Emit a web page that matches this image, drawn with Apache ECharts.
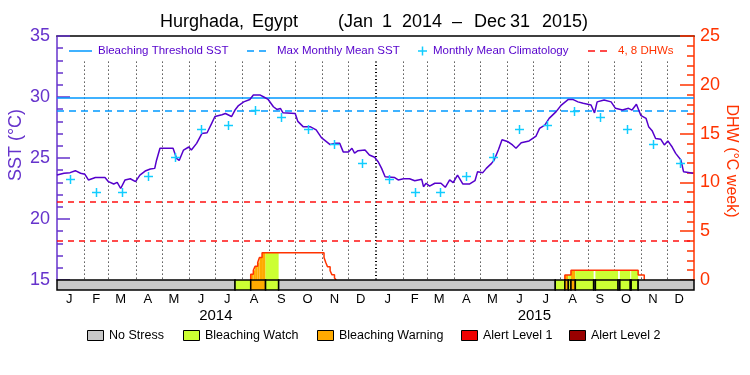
<!DOCTYPE html>
<html><head><meta charset="utf-8">
<script src="https://cdn.jsdelivr.net/npm/echarts@6/dist/echarts.min.js"></script>
<style>html,body{margin:0;padding:0;background:#fff}#c{width:750px;height:375px}</style>
</head><body><div id="c"></div>
<script>
// ---------------- DATA ----------------
const sstDates = ['2014-01-01','2014-01-09','2014-01-16','2014-01-22','2014-01-28','2014-02-02','2014-02-06','2014-02-14','2014-02-25','2014-03-01','2014-03-07','2014-03-11','2014-03-15','2014-03-20','2014-03-26','2014-04-01','2014-04-06','2014-04-12','2014-04-18','2014-04-23','2014-04-25','2014-04-29','2014-05-14','2014-05-18','2014-05-21','2014-05-26','2014-06-01','2014-06-04','2014-06-10','2014-06-16','2014-06-22','2014-06-27','2014-07-01','2014-07-09','2014-07-13','2014-07-20','2014-07-24','2014-07-28','2014-08-03','2014-08-10','2014-08-14','2014-08-22','2014-08-26','2014-08-31','2014-09-06','2014-09-10','2014-09-14','2014-09-17','2014-10-01','2014-10-04','2014-10-10','2014-10-18','2014-10-25','2014-10-31','2014-11-10','2014-11-15','2014-11-21','2014-11-25','2014-12-01','2014-12-05','2014-12-08','2014-12-12','2014-12-20','2014-12-25','2014-12-31',
'2015-01-04','2015-01-08','2015-01-12','2015-01-23','2015-01-27','2015-02-02','2015-02-09','2015-02-15','2015-02-23','2015-02-25','2015-02-28','2015-03-04','2015-03-10','2015-03-17','2015-03-22','2015-03-27','2015-03-31','2015-04-05','2015-04-11','2015-04-19','2015-04-25','2015-04-28','2015-05-04','2015-05-08','2015-05-14','2015-05-17','2015-05-22','2015-05-26','2015-06-02','2015-06-07','2015-06-11','2015-06-17','2015-06-26','2015-07-04','2015-07-08','2015-07-14','2015-07-19','2015-07-27','2015-08-02','2015-08-10','2015-08-15','2015-08-21','2015-08-27','2015-09-05','2015-09-09','2015-09-12','2015-09-20','2015-09-28','2015-10-03','2015-10-11','2015-10-18','2015-10-22','2015-10-27','2015-11-01','2015-11-07','2015-11-10','2015-11-14','2015-11-18','2015-11-24','2015-11-28','2015-12-02','2015-12-07','2015-12-11','2015-12-17','2015-12-20','2015-12-31'];
const sstValues = [23.6,23.75,23.8,23.96,23.75,23.66,23.2,23.4,23.4,23.06,22.87,23.0,22.5,23.2,23.3,23.06,23.6,23.93,24.1,24.15,24.8,25.8,25.8,24.97,24.8,25.65,25.9,25.65,26.2,27.0,27.07,27.8,28.4,28.55,28.65,28.4,28.93,29.3,29.6,29.8,30.16,30.16,30.0,29.8,29.2,28.98,29.06,28.7,28.65,28.0,27.57,27.57,27.3,26.67,26.1,26.2,26.2,25.5,25.5,25.8,25.4,25.6,25.65,25.25,25.06,
24.7,24.15,23.47,23.4,23.2,23.3,23.3,23.14,23.25,22.65,22.93,22.7,22.93,22.93,22.6,23.2,22.98,23.6,22.87,22.87,23.14,23.88,23.8,24.15,24.56,24.84,25.7,26.5,26.33,26.07,25.8,26.25,26.4,26.8,27.43,27.7,28.25,28.8,29.34,29.8,29.8,29.6,29.48,29.34,28.7,29.6,29.75,29.6,29.07,28.93,29.07,28.93,29.4,28.5,28.25,27.57,27.24,26.6,26.53,26.07,26.4,25.9,25.38,24.84,23.88,23.75];

const climDates = ['2014-01-16','2014-02-15','2014-03-16','2014-04-15','2014-05-16','2014-06-15','2014-07-16','2014-08-16','2014-09-15','2014-10-16','2014-11-15','2014-12-16',
'2015-01-16','2015-02-15','2015-03-16','2015-04-15','2015-05-16','2015-06-15','2015-07-16','2015-08-16','2015-09-15','2015-10-16','2015-11-15','2015-12-16'];
const climValues = [23.3,22.25,22.25,23.55,25.1,27.35,27.7,28.9,28.33,27.35,26.15,24.56,
23.3,22.25,22.25,23.5,25.1,27.35,27.7,28.88,28.33,27.35,26.15,24.56];

const bleachingThreshold = 29.9;
const maxMonthlyMean = 28.9;
const dhwLevels = [4, 8];

const dhwDates = ['2014-08-11','2014-08-14','2014-08-16','2014-08-19','2014-08-21','2014-08-24','2014-11-03','2014-11-05','2014-11-07','2014-11-10','2014-11-12','2014-11-15','2014-11-17',
'2015-08-06','2015-08-13','2015-10-29','2015-11-05'];
const dhwValues = [0.6,1.0,1.4,1.8,2.3,2.8,2.3,1.8,1.35,0.95,0.55,0.2,0,
0.5,1.0,0.5,0];

const stressStart = ['2014-01-01','2014-07-24','2014-08-11','2014-08-28','2014-09-12','2015-07-26','2015-08-06','2015-08-10','2015-08-13','2015-08-18','2015-09-08','2015-09-10','2015-10-06','2015-10-08','2015-10-20','2015-10-21','2015-10-29'];
const stressLevel = [0,1,2,1,0,1,2,1,2,1,0,1,0,1,0,1,0];

const monthLetters = ['J','F','M','A','M','J','J','A','S','O','N','D'];
const yearLabels = ['2014','2015'];
const yearLabelDates = ['2014-07-02','2015-07-02'];
const sstTicks = [15,20,25,30,35];
const stressNames = ['No Stress','Bleaching Watch','Bleaching Warning','Alert Level 1','Alert Level 2'];

// ---------------- STYLE ----------------
const FONT = 'Liberation Sans';
const PURPLE = '#5500cc', AXP = '#6633cc', ORANGE = '#ff3300', BLUE = '#0099ff', CYAN = '#11ccff', RED = '#ff1111';
const stressColors = ['#c8c8c8','#ccff33','#ffaa00','#ee0000','#990000'];
const ts = s => Date.parse(s + 'T00:00:00Z');
const T0 = ts('2014-01-01'), T1 = ts('2016-01-01');

const sstData = sstDates.map((d,i)=>[ts(d), sstValues[i]]);
const climData = climDates.map((d,i)=>[ts(d), climValues[i]]);

// DHW outline
const dhwLine = [];
dhwDates.forEach((d,i)=>{
  if (i===0 || dhwValues[i-1]===0) { if (i>0) dhwLine.push(null); dhwLine.push([ts(d),0]); }
  dhwLine.push([ts(d), dhwValues[i]]);
});
// stress segments
const stressSeg = stressStart.map((d,i)=>[ts(d), i+1<stressStart.length ? ts(stressStart[i+1]) : T1, stressLevel[i]]);
// DHW fill pieces = DHW steps intersected with stress segments (level>0)
const dhwFill = [];
for (let i=0;i<dhwDates.length-1;i++){
  if (dhwValues[i]<=0) continue;
  const a = ts(dhwDates[i]), b = ts(dhwDates[i+1]);
  stressSeg.forEach(s=>{
    if (s[2]===0) return;
    const lo = Math.max(a,s[0]), hi = Math.min(b,s[1]);
    if (hi>lo) dhwFill.push([lo,hi,dhwValues[i],s[2]]);
  });
}
// month boundaries and month label positions
const monthBounds = [], monthLabelData = [];
for (let y=2014;y<=2015;y++) for (let m=0;m<12;m++){
  const t = Date.UTC(y,m,1);
  if (!(y===2014 && m===0)) monthBounds.push([t, (m===0)?1:0]);
  monthLabelData.push([Date.UTC(y,m,15), m]);
}
const yearData = yearLabelDates.map((d,i)=>[ts(d), i]);

// ---------------- CHART ----------------
const chart = echarts.init(document.getElementById('c'));
const txt = (text,x,y,size,color,align,extra) => Object.assign({type:'text', x:x, y:y, silent:true,
  style:{text:text, fill:color, font:size+'px '+FONT, textAlign:align||'left', textVerticalAlign:'middle'}}, extra||{});

const legTop = 51;
const graphic = [
  txt('Hurghada,',160,22,18,'#000'), txt('Egypt',252,22,18,'#000'),
  txt('(Jan',338,22,18,'#000'), txt('1',382,22,18,'#000'), txt('2014',402,22,18,'#000'),
  txt('–',452,22,18,'#000'), txt('Dec',474,22,18,'#000'), txt('31',510,22,18,'#000'), txt('2015)',542,22,18,'#000'),
  txt('SST (°C)',16,145,18,AXP,'center',{rotation:Math.PI/2}),
  txt('DHW (°C week)',731,161,16,ORANGE,'center',{rotation:-Math.PI/2}),
  {type:'line', silent:true, shape:{x1:69,y1:legTop,x2:92,y2:legTop}, style:{stroke:BLUE,lineWidth:1.5}},
  txt('Bleaching Threshold SST',98,legTop,11.5,PURPLE),
  {type:'line', silent:true, shape:{x1:247,y1:legTop,x2:269,y2:legTop}, style:{stroke:BLUE,lineWidth:1.5,lineDash:[7,5]}},
  txt('Max Monthly Mean SST',277,legTop,11.5,PURPLE),
  {type:'line', silent:true, shape:{x1:418,y1:legTop,x2:427,y2:legTop}, style:{stroke:CYAN,lineWidth:1.5}},
  {type:'line', silent:true, shape:{x1:422.5,y1:legTop-4.5,x2:422.5,y2:legTop+4.5}, style:{stroke:CYAN,lineWidth:1.5}},
  txt('Monthly Mean Climatology',433,legTop,11.5,PURPLE),
  {type:'line', silent:true, shape:{x1:588,y1:legTop,x2:612,y2:legTop}, style:{stroke:RED,lineWidth:1.5,lineDash:[7,5]}},
  txt('4, 8 DHWs',618,legTop,11.5,ORANGE)
];
const boxX = [87,183,317,461,569];
stressNames.forEach((n,i)=>{
  graphic.push({type:'rect', silent:true, shape:{x:boxX[i]+0.5,y:330.5,width:16,height:10}, style:{fill:stressColors[i],stroke:'#000',lineWidth:1}});
  graphic.push(txt(n,boxX[i]+22,336,12.5,'#000'));
});

const option = {
  animation:false,
  backgroundColor:'#fff',
  graphic: graphic,
  grid:[{left:57,right:56,top:36,height:244},{left:57,right:56,top:280,height:10}],
  xAxis:[
    {type:'time', gridIndex:0, min:T0, max:T1, position:'top',
     axisLine:{show:true, onZero:false, lineStyle:{color:'#000',width:1.5}}, axisTick:{show:false}, axisLabel:{show:false}, splitLine:{show:false}},
    {type:'time', gridIndex:1, min:T0, max:T1, show:false}
  ],
  yAxis:[
    {type:'value', gridIndex:0, min:15, max:35, interval:5, position:'left',
     axisLine:{show:true, lineStyle:{color:AXP,width:1.5}},
     axisTick:{show:true, inside:true, length:13, lineStyle:{color:AXP,width:1.5}},
     minorTick:{show:true, splitNumber:5, length:6, lineStyle:{color:AXP,width:1.5}},
     axisLabel:{color:AXP, fontSize:18, fontFamily:FONT, margin:7, formatter:v=>sstTicks.includes(v)?String(v):''},
     splitLine:{show:false}},
    {type:'value', gridIndex:0, min:0, max:25, interval:5, position:'right',
     axisLine:{show:true, lineStyle:{color:ORANGE,width:1.5}},
     axisTick:{show:true, inside:true, length:14, lineStyle:{color:ORANGE,width:1.5}},
     minorTick:{show:true, splitNumber:5, length:7, lineStyle:{color:ORANGE,width:1.5}},
     axisLabel:{color:ORANGE, fontSize:18, fontFamily:FONT, margin:6},
     splitLine:{show:false}},
    {type:'value', gridIndex:1, min:0, max:1, show:false}
  ],
  series:[
    { // month grid lines
      type:'custom', xAxisIndex:0, yAxisIndex:0, silent:true, z:1, data:monthBounds,
      renderItem:(p,api)=>{
        const a = api.coord([api.value(0),32.9]), b = api.coord([api.value(0),15]);
        const yr = api.value(1)===1;
        const x = yr ? Math.round(a[0]) : Math.round(a[0])+0.5;
        return {type:'line', shape:{x1:x,y1:a[1],x2:x,y2:b[1]},
          style:{stroke:'#000', lineWidth:yr?2:1, lineDash:yr?[1,2.5]:[1,3]}};
      }
    },
    { // DHW fill by stress level
      type:'custom', xAxisIndex:0, yAxisIndex:1, silent:true, z:2, data:dhwFill,
      renderItem:(p,api)=>{
        const a = api.coord([api.value(0),api.value(2)]), b = api.coord([api.value(1),0]);
        return {type:'rect', shape:{x:a[0],y:a[1],width:b[0]-a[0],height:b[1]-a[1]},
          style:{fill:stressColors[api.value(3)]}};
      }
    },
    { type:'line', name:'DHW', xAxisIndex:0, yAxisIndex:1, data:dhwLine, step:'end', showSymbol:false, symbol:'none',
      connectNulls:false, silent:true, z:4, lineStyle:{color:ORANGE,width:1.5},
      markLine:{silent:true, symbol:['none','none'], label:{show:false}, animation:false,
        lineStyle:{color:RED,width:1.5,type:[6,5]}, data:dhwLevels.map(v=>({yAxis:v}))}
    },
    { type:'line', name:'SST', xAxisIndex:0, yAxisIndex:0, data:sstData, showSymbol:false, symbol:'none', silent:true, z:5,
      lineStyle:{color:PURPLE,width:1.5},
      markLine:{silent:true, symbol:['none','none'], label:{show:false}, animation:false,
        data:[{yAxis:bleachingThreshold, lineStyle:{color:BLUE,width:1.5,type:'solid'}},
              {yAxis:maxMonthlyMean, lineStyle:{color:BLUE,width:1.5,type:[7,5]}}]}
    },
    { // climatology crosses
      type:'custom', xAxisIndex:0, yAxisIndex:0, silent:true, z:6, data:climData,
      renderItem:(p,api)=>{
        const c = api.coord([api.value(0),api.value(1)]); const s=4.5;
        const x = Math.round(c[0])+0.5, y = Math.round(c[1])+0.5;
        return {type:'group', children:[
          {type:'line', shape:{x1:x-s,y1:y,x2:x+s,y2:y}, style:{stroke:CYAN,lineWidth:1.5}},
          {type:'line', shape:{x1:x,y1:y-s,x2:x,y2:y+s}, style:{stroke:CYAN,lineWidth:1.5}}]};
      }
    },
    { // stress bar
      type:'custom', xAxisIndex:1, yAxisIndex:2, silent:true, z:7, data:stressSeg,
      renderItem:(p,api)=>{
        const a = api.coord([api.value(0),1]), b = api.coord([api.value(1),0]);
        return {type:'rect', shape:{x:a[0],y:a[1],width:b[0]-a[0],height:b[1]-a[1]},
          style:{fill:stressColors[api.value(2)], stroke:'#000', lineWidth:1.5}};
      }
    },
    { // month letters
      type:'custom', xAxisIndex:1, yAxisIndex:2, silent:true, clip:false, z:7, data:monthLabelData,
      renderItem:(p,api)=>{
        const c = api.coord([api.value(0),0]);
        return {type:'text', x:c[0], y:c[1]+9, style:{text:monthLetters[api.value(1)], fill:'#000',
          font:'13px '+FONT, textAlign:'center', textVerticalAlign:'middle'}};
      }
    },
    { // year labels
      type:'custom', xAxisIndex:1, yAxisIndex:2, silent:true, clip:false, z:7, data:yearData,
      renderItem:(p,api)=>{
        const c = api.coord([api.value(0),0]);
        return {type:'text', x:c[0], y:c[1]+26, style:{text:yearLabels[api.value(1)], fill:'#000',
          font:'15px '+FONT, textAlign:'center', textVerticalAlign:'middle'}};
      }
    }
  ]
};
chart.setOption(option);
</script>
</body></html>
